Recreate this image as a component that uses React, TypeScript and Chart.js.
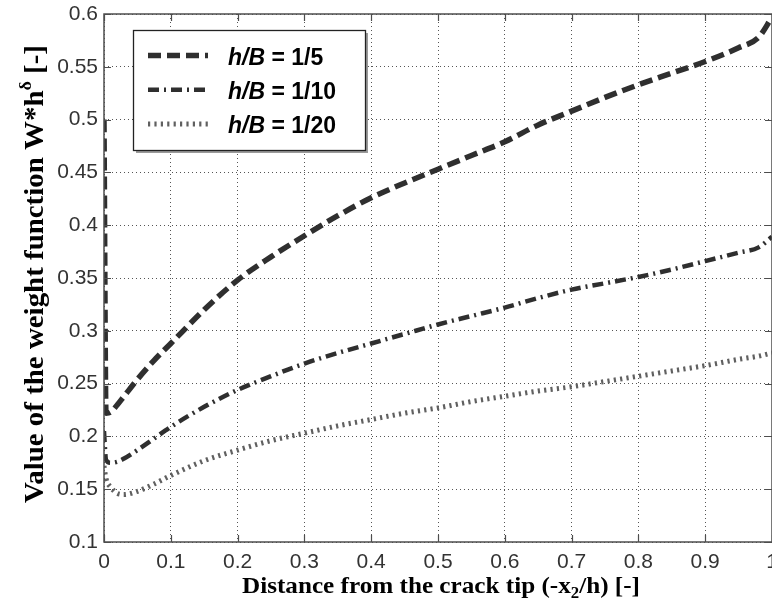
import { useEffect, useRef } from "react";
import { Chart, registerables } from "chart.js";

Chart.register(...registerables);

// Normalised distance from the crack tip (-x2/h)
const distance = [
  0, 0.003, 0.01, 0.02, 0.03, 0.05, 0.075, 0.1, 0.15, 0.2, 0.25, 0.3, 0.35, 0.4,
  0.45, 0.5, 0.55, 0.6, 0.65, 0.7, 0.75, 0.8, 0.85, 0.9, 0.95, 0.98, 1.0,
];

// Weight function W*h^delta for each h/B ratio
const weightHB5 = [
  0.5, 0.222, 0.223, 0.23, 0.238, 0.254, 0.272, 0.288, 0.32, 0.348, 0.37, 0.39,
  0.409, 0.426, 0.44, 0.453, 0.466, 0.479, 0.495, 0.508, 0.521, 0.533, 0.544,
  0.555, 0.568, 0.578, 0.597,
];
const weightHB10 = [
  0.205, 0.178, 0.175, 0.176, 0.179, 0.187, 0.198, 0.209, 0.228, 0.244, 0.257,
  0.269, 0.279, 0.288, 0.297, 0.306, 0.314, 0.322, 0.331, 0.339, 0.345, 0.351,
  0.358, 0.366, 0.374, 0.379, 0.389,
];
const weightHB20 = [
  0.172, 0.16, 0.152, 0.146, 0.145, 0.148, 0.155, 0.163, 0.177, 0.187, 0.196,
  0.203, 0.21, 0.216, 0.222, 0.227, 0.233, 0.238, 0.243, 0.247, 0.252, 0.257,
  0.262, 0.267, 0.273, 0.276, 0.279,
];

const ratioLabels = ["1/5", "1/10", "1/20"];

const xTickValues = [0, 0.1, 0.2, 0.3, 0.4, 0.5, 0.6, 0.7, 0.8, 0.9, 1];
const xTickLabels = ["0", "0.1", "0.2", "0.3", "0.4", "0.5", "0.6", "0.7", "0.8", "0.9", "1"];
const yTickValues = [0.1, 0.15, 0.2, 0.25, 0.3, 0.35, 0.4, 0.45, 0.5, 0.55, 0.6];
const yTickLabels = ["0.1", "0.15", "0.2", "0.25", "0.3", "0.35", "0.4", "0.45", "0.5", "0.55", "0.6"];

const SANS = "'Liberation Sans', Arial, Helvetica, sans-serif";
const SERIF = "'Liberation Serif', 'Times New Roman', Times, serif";

type Run = { text: string; font: string; dy: number };

// Draws a line of mixed-style text centred on (0,0), fitted to a given width.
function drawRuns(ctx: CanvasRenderingContext2D, runs: Run[], targetWidth: number) {
  let total = 0;
  const widths = runs.map((r) => {
    ctx.font = r.font;
    const w = ctx.measureText(r.text).width;
    total += w;
    return w;
  });
  const sx = targetWidth / total;
  ctx.save();
  ctx.scale(sx, 1);
  let x = -total / 2;
  ctx.textAlign = "left";
  ctx.textBaseline = "alphabetic";
  runs.forEach((r, i) => {
    ctx.font = r.font;
    ctx.fillText(r.text, x, r.dy);
    x += widths[i];
  });
  ctx.restore();
}

const decorPlugin = {
  id: "decor",
  afterDraw(chart: any) {
    const { ctx, chartArea: a, scales } = chart;
    const xs = scales.x;
    const ys = scales.y;
    ctx.save();

    // axes frame with inward tick marks
    ctx.setLineDash([]);
    ctx.strokeStyle = "#4d4d4d";
    ctx.lineWidth = 1.5;
    ctx.strokeRect(a.left, a.top, a.right - a.left, a.bottom - a.top);
    ctx.lineWidth = 1.2;
    ctx.beginPath();
    const tick = 7;
    xTickValues.forEach((v) => {
      const px = Math.round(xs.getPixelForValue(v)) + 0.5;
      ctx.moveTo(px, a.bottom);
      ctx.lineTo(px, a.bottom - tick);
      ctx.moveTo(px, a.top);
      ctx.lineTo(px, a.top + tick);
    });
    yTickValues.forEach((v) => {
      const py = Math.round(ys.getPixelForValue(v)) + 0.5;
      ctx.moveTo(a.left, py);
      ctx.lineTo(a.left + tick, py);
      ctx.moveTo(a.right, py);
      ctx.lineTo(a.right - tick, py);
    });
    ctx.stroke();

    // axis titles
    ctx.fillStyle = "#000";
    ctx.save();
    ctx.translate(441, 593);
    drawRuns(
      ctx,
      [
        { text: "Distance from the crack tip (-x", font: `bold 24px ${SERIF}`, dy: 0 },
        { text: "2", font: `bold 16px ${SERIF}`, dy: 5 },
        { text: "/h) [-]", font: `bold 24px ${SERIF}`, dy: 0 },
      ],
      398
    );
    ctx.restore();

    ctx.save();
    ctx.translate(43, 274);
    ctx.rotate(-Math.PI / 2);
    drawRuns(
      ctx,
      [
        { text: "Value of the weight function W*h", font: `bold 27px ${SERIF}`, dy: 0 },
        { text: "\u03b4", font: `bold 17px ${SERIF}`, dy: -12 },
        { text: " [-]", font: `bold 27px ${SERIF}`, dy: 0 },
      ],
      458
    );
    ctx.restore();

    // legend box
    const bx = a.left + 29;
    const by = a.top + 16;
    const bw = 232;
    const bh = 120;
    ctx.fillStyle = "#9a9a9a";
    ctx.fillRect(bx + 3, by + 3, bw, bh);
    ctx.fillStyle = "#fff";
    ctx.fillRect(bx, by, bw, bh);
    ctx.strokeStyle = "#222";
    ctx.lineWidth = 1.3;
    ctx.strokeRect(bx + 0.5, by + 0.5, bw, bh);

    chart.data.datasets.forEach((ds: any, i: number) => {
      const cy = by + 26.5 + i * 34.3;
      ctx.save();
      ctx.strokeStyle = ds.borderColor;
      ctx.lineWidth = ds.borderWidth;
      ctx.setLineDash(ds.borderDash || []);
      ctx.beginPath();
      ctx.moveTo(bx + 15, cy - 1);
      ctx.lineTo(bx + 75, cy - 1);
      ctx.stroke();
      ctx.restore();

      ctx.fillStyle = "#000";
      ctx.textAlign = "left";
      ctx.textBaseline = "alphabetic";
      let tx = bx + 95;
      const base = cy + 8.3;
      ctx.font = `italic bold 23px ${SANS}`;
      ctx.fillText("h/B", tx, base);
      tx += ctx.measureText("h/B").width;
      ctx.font = `bold 23px ${SANS}`;
      ctx.fillText(` = ${ratioLabels[i]}`, tx, base);
    });

    ctx.restore();
  },
};

export default function App() {
  const canvasRef = useRef<HTMLCanvasElement | null>(null);

  useEffect(() => {
    const canvas = canvasRef.current;
    if (!canvas) return;

    const toPoints = (ys: number[]) => distance.map((x, i) => ({ x, y: ys[i] }));

    const chart = new Chart(canvas, {
      type: "line",
      data: {
        datasets: [
          {
            label: `h/B = ${ratioLabels[0]}`,
            data: toPoints(weightHB5),
            borderColor: "#2f2f2f",
            borderWidth: 5.5,
            borderDash: [13, 6],
            pointRadius: 0,
            fill: false,
            cubicInterpolationMode: "monotone",
          },
          {
            label: `h/B = ${ratioLabels[1]}`,
            data: toPoints(weightHB10),
            borderColor: "#2f2f2f",
            borderWidth: 4.5,
            borderDash: [11, 5, 2, 5],
            pointRadius: 0,
            fill: false,
            cubicInterpolationMode: "monotone",
          },
          {
            label: `h/B = ${ratioLabels[2]}`,
            data: toPoints(weightHB20),
            borderColor: "#606060",
            borderWidth: 5,
            borderDash: [2.2, 4.2],
            pointRadius: 0,
            fill: false,
            cubicInterpolationMode: "monotone",
          },
        ],
      },
      options: {
        animation: false,
        responsive: false,
        devicePixelRatio: 1,
        layout: { padding: { top: 14, right: 0, bottom: 0, left: 0 } },
        plugins: {
          legend: { display: false },
          tooltip: { enabled: false },
        },
        scales: {
          x: {
            type: "linear",
            min: 0,
            max: 1,
            afterBuildTicks: (s: any) => {
              s.ticks = xTickValues.map((value) => ({ value }));
            },
            afterFit: (s: any) => {
              s.height = 70;
              s.paddingLeft = 0;
              s.paddingRight = 0;
            },
            ticks: {
              autoSkip: false,
              maxRotation: 0,
              padding: 8,
              color: "#333",
              font: { family: SANS, size: 21 },
              callback: (_v: any, i: number) => xTickLabels[i],
            },
            grid: { color: "#555", lineWidth: 1, drawTicks: false },
            border: { display: false, dash: [1, 3] },
          },
          y: {
            type: "linear",
            min: 0.1,
            max: 0.6,
            afterBuildTicks: (s: any) => {
              s.ticks = yTickValues.map((value) => ({ value }));
            },
            afterFit: (s: any) => {
              s.width = 104;
              s.paddingTop = 0;
              s.paddingBottom = 0;
            },
            ticks: {
              autoSkip: false,
              padding: 6,
              color: "#333",
              font: { family: SANS, size: 21 },
              callback: (_v: any, i: number) => yTickLabels[i],
            },
            grid: { color: "#555", lineWidth: 1, drawTicks: false },
            border: { display: false, dash: [1, 3] },
          },
        },
      },
      plugins: [decorPlugin],
    });

    return () => chart.destroy();
  }, []);

  return (
    <div style={{ position: "fixed", left: 0, top: 0, width: 772, height: 612, background: "#fff" }}>
      <canvas ref={canvasRef} width={772} height={612} style={{ display: "block" }} />
    </div>
  );
}
